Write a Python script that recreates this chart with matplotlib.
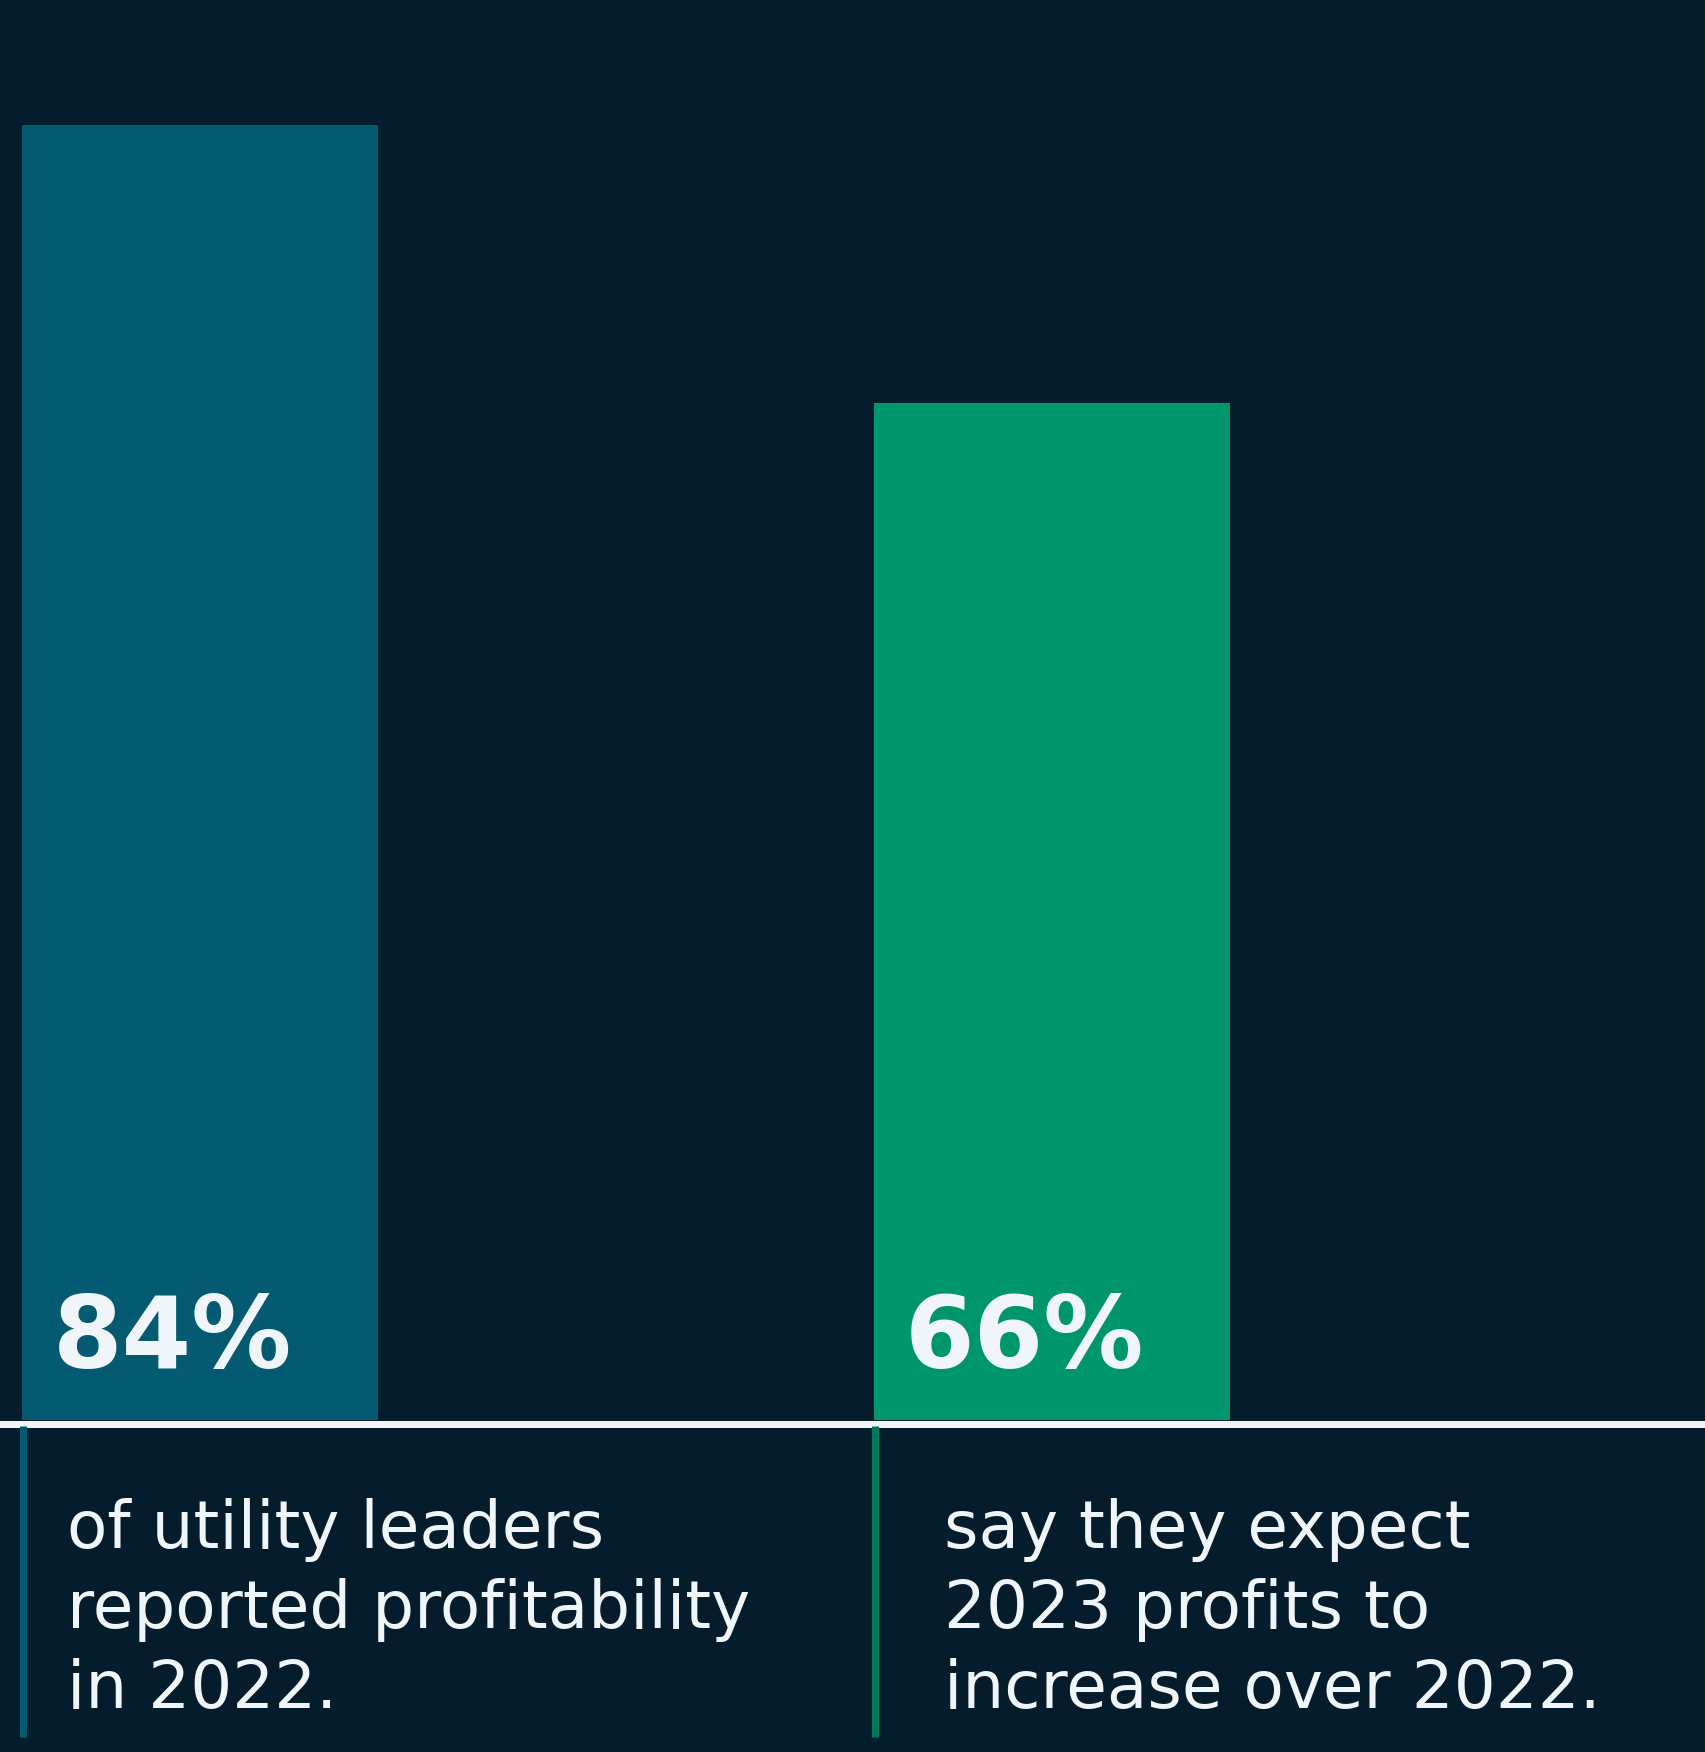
import matplotlib
matplotlib.use("Agg")
import matplotlib.pyplot as plt
from matplotlib.lines import Line2D

# ---- data ----
values = [84, 66]
bar_colors = ["#045a70", "#00966c"]
rule_colors = ["#045a70", "#00785a"]
captions = [
    ["of utility leaders", "reported profitability", "in 2022."],
    ["say they expect", "2023 profits to", "increase over 2022."],
]

BG = "#051c2c"
FG = "#eff5f8"
W, H = 1706, 1752
DPI = 100

fig = plt.figure(figsize=(W / DPI, H / DPI), dpi=DPI, facecolor=BG)

# bar axes: bottom edge at pixel row 1420
base_row = 1420
ax = fig.add_axes([0, 1 - base_row / H, 1, base_row / H])
ax.set_facecolor(BG)
spacing = 852.0
bar_w = 356 / spacing
xs = list(range(len(values)))
ax.bar(xs, values, width=bar_w, color=bar_colors, align="center")
ax.set_xlim(-200 / spacing, (W - 200) / spacing)
ax.set_ylim(0, 84 * base_row / 1295)
ax.axis("off")

for x, v in zip(xs, values):
    ax.annotate(f"{v}%", xy=(x - bar_w / 2, 0), xytext=(31, 52),
                textcoords="offset pixels", ha="left", va="baseline",
                color=FG, fontsize=72, fontweight="bold",
                family="DejaVu Sans")

# overlay for rules and captions (pixel coordinates)
ov = fig.add_axes([0, 0, 1, 1], facecolor="none")
ov.set_xlim(0, W)
ov.set_ylim(H, 0)
ov.axis("off")

ov.add_line(Line2D([0, W], [1423.5, 1423.5], color=FG, lw=7 * 72 / DPI))

for i, x in enumerate(xs):
    left_px = 200 + x * spacing - 178
    ov.add_line(Line2D([left_px + 1.5, left_px + 1.5], [1426, 1737],
                       color=rule_colors[i], lw=7 * 72 / DPI, solid_capstyle="butt"))
    tx = [67, 944][i]
    for j, line in enumerate(captions[i]):
        ov.text(tx, 1548 + 80 * j, line, color=FG, fontsize=47.5,
                family="DejaVu Sans", fontweight="normal", ha="left", va="baseline")

fig.savefig("out.png", dpi=DPI, facecolor=BG)
